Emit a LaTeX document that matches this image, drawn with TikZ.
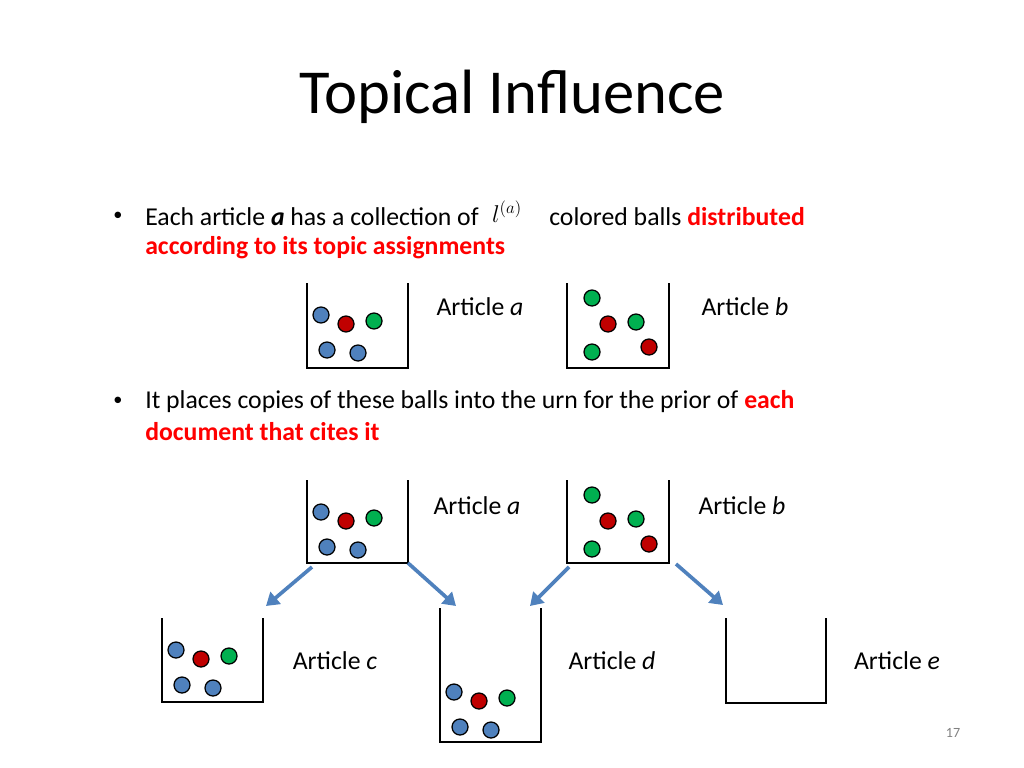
\documentclass[tikz,border=0pt]{standalone}
\usepackage{fontspec}
\setmainfont{Carlito}
\usetikzlibrary{arrows.meta,calc}
\definecolor{ballblue}{RGB}{79,129,189}
\definecolor{ballred}{RGB}{192,0,0}
\definecolor{ballgreen}{RGB}{0,176,80}
\definecolor{hired}{RGB}{255,0,0}
\tikzset{
  urnline/.style={line width=1.6pt, black},
  ball/.style={circle, draw=black, line width=0.9pt, minimum size=0.4cm, inner sep=0pt},
  bb/.style={ball, fill=ballblue}, rb/.style={ball, fill=ballred}, gb/.style={ball, fill=ballgreen},
  cite/.style={-{Triangle[length=9pt,width=11pt]}, line width=2.6pt, draw=ballblue},
  txt/.style={anchor=west, inner sep=0pt, font=\fontsize{18.3}{22}\selectfont},
  bul/.style={anchor=west, inner sep=0pt, font=\fontsize{13}{16}\selectfont},
  label/.style={font=\fontsize{18.3}{22}\selectfont}
}
\newcommand{\urnat}[5]{% name, x, y, w, h
  \draw[urnline] (#2,#3) -- (#2,#3+#5) -- (#2+#4,#3+#5) -- (#2+#4,#3);
  \coordinate (#1-bl) at (#2,#3+#5);
  \coordinate (#1-br) at (#2+#4,#3+#5);
}
\newcommand{\ballsA}[2]{% blue-red-green set at offset
  \node[bb] at (#1+14,#2+32) {}; \node[rb] at (#1+39,#2+41) {}; \node[gb] at (#1+67,#2+38) {};
  \node[bb] at (#1+20,#2+67) {}; \node[bb] at (#1+51,#2+70) {};
}
\newcommand{\ballsB}[2]{%
  \node[gb] at (#1+25,#2+15) {}; \node[rb] at (#1+41,#2+41) {}; \node[gb] at (#1+69,#2+39) {};
  \node[gb] at (#1+25,#2+69) {}; \node[rb] at (#1+82,#2+64) {};
}
\begin{document}
\begin{tikzpicture}[x=0.025cm,y=-0.025cm]
\useasboundingbox (0,0) rectangle (1024,768);

% title
\node[font=\fontsize{44.5}{52}\selectfont] (title) at (512,97) {Topical Influence};

% first bullet
\node[bul] (dot1) at (113,216) {•};
\node[txt] (line1) at (145,217) {Each article \textbf{\textit{a}} has a collection of};
\node[inner sep=0pt] (la) at (507,212) {\fontsize{18}{22}\selectfont$l^{(a)}$};
\node[txt] (line1b) at (549,217) {colored balls \textcolor{hired}{\textbf{distributed}}};
\node[txt] (line2) at (145,248) {\textcolor{hired}{\textbf{according to its topic assignments}}};

% urns, first row
\urnat{ua}{307}{283}{101}{85}
\ballsA{307}{283}
\urnat{ub}{567}{283}{102}{85}
\ballsB{567}{283}
\node[label] (laba) at (480,307) {Article \textit{a}};
\node[label] (labb) at (745,307) {Article \textit{b}};

% second bullet
\node[bul] (dot2) at (113,401) {•};
\node[txt] (line3) at (145,402) {It places copies of these balls into the urn for the prior of \textcolor{hired}{\textbf{each}}};
\node[txt] (line4) at (145,432) {\textcolor{hired}{\textbf{document that cites it}}};

% urns, second row
\urnat{ua2}{307}{480}{101}{83}
\ballsA{307}{480}
\urnat{ub2}{567}{480}{102}{83}
\ballsB{567}{480}
\node[label] (laba2) at (477,506) {Article \textit{a}};
\node[label] (labb2) at (742,506) {Article \textit{b}};

% cited urns
\urnat{uc}{162}{618}{101}{84}
\ballsA{162}{618}
\urnat{ud}{440}{608}{101}{134}
\ballsA{440}{660}
\urnat{ue}{726}{618}{100}{85}
\node[label] (labc) at (335,661) {Article \textit{c}};
\node[label] (labd) at (612,661) {Article \textit{d}};
\node[label] (labe) at (897,661) {Article \textit{e}};

% citations
\coordinate (ca) at (266,606); \coordinate (da) at (456,606);
\coordinate (db) at (530,606); \coordinate (eb) at (723,605);
\draw[cite] ($(ua2-bl)+(5,4)$) -- (ca);
\draw[cite] (ua2-br) -- (da);
\draw[cite] ($(ub2-bl)+(2,4)$) -- (db);
\draw[cite] ($(ub2-br)+(7,1)$) -- (eb);

\node[font=\fontsize{10}{12}\selectfont, text=gray] (page) at (953,733) {17};
\end{tikzpicture}
\end{document}
